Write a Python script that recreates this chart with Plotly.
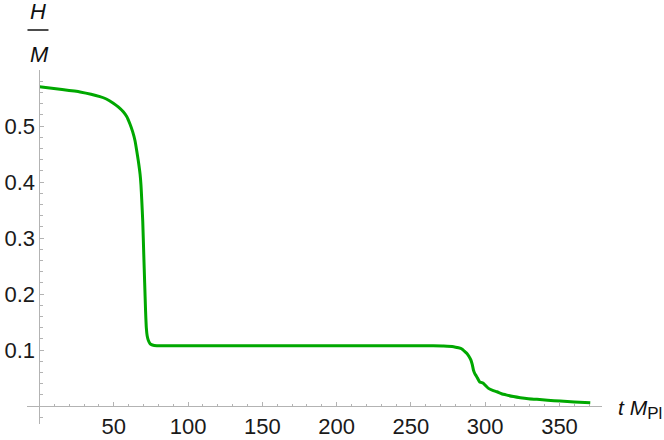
import plotly.graph_objects as go

# data
t_vals = [0, 13.8, 27.3, 40.7, 45, 49.7, 53, 56.4, 58.7, 60.9, 62.7, 64.3, 65.5, 66.5, 67.7,
          68.3, 68.8, 69.5, 70.2, 70.8, 71.4, 71.9, 72.5, 73.3, 74.5, 76, 79, 90, 150, 200,
          250, 265, 272, 278.7, 282, 284.3, 286, 287.7, 289, 290.4, 291.3, 292.1, 293,
          293.9, 295, 296.2, 297.5, 298.9, 300.5, 302.2, 305, 307.9, 311, 314.6, 319, 323.6,
          329, 334.8, 342, 350.5, 360, 370.7]
h_vals = [0.570, 0.5655, 0.5607, 0.5525, 0.5482, 0.5408, 0.5342, 0.5255, 0.517, 0.5036, 0.490,
          0.4738, 0.455, 0.438, 0.414, 0.395, 0.370, 0.330, 0.270, 0.220, 0.170, 0.140, 0.125,
          0.117, 0.111, 0.109, 0.1077, 0.1077, 0.1077, 0.1077, 0.1077, 0.1075, 0.1072,
          0.106, 0.104, 0.102, 0.098, 0.094, 0.089, 0.082, 0.074, 0.064, 0.058, 0.054, 0.049,
          0.0434, 0.042, 0.0405, 0.036, 0.0316, 0.028, 0.0256, 0.022, 0.0196, 0.017, 0.0149,
          0.013, 0.012, 0.0104, 0.0089, 0.0075, 0.0059]

x_ticks = [50, 100, 150, 200, 250, 300, 350]
y_ticks = [0.1, 0.2, 0.3, 0.4, 0.5]
y_tick_text = ["0.1", "0.2", "0.3", "0.4", "0.5"]

x_range = [-8.4, 378.6]
y_range = [-0.032, 0.6]

axis_col = "#b3b3b3"
font_fam = "Liberation Sans, Arial, sans-serif"
label_col = "#1a1a1a"

fig = go.Figure()
fig.add_trace(go.Scatter(x=t_vals, y=h_vals, mode="lines",
                         line=dict(color="#00a800", width=3, shape="spline", smoothing=0.4),
                         hoverinfo="skip"))

x_pos = (0 - y_range[0]) / (y_range[1] - y_range[0])
y_pos = (0 - x_range[0]) / (x_range[1] - x_range[0])

fig.update_layout(
    width=664, height=440,
    margin=dict(l=27, r=62, t=70, b=16),
    paper_bgcolor="white", plot_bgcolor="white",
    showlegend=False,
    font=dict(family=font_fam, size=22, color=label_col),
    xaxis=dict(range=x_range, anchor="free", position=x_pos, showgrid=False,
               automargin=False, zeroline=False, showline=True, linecolor=axis_col,
               linewidth=1, tickvals=x_ticks, ticks="inside", ticklen=4,
               tickcolor=axis_col, tickwidth=1, ticklabelstandoff=1,
               minor=dict(dtick=10, tick0=0, ticks="inside", ticklen=2.5,
                          tickcolor=axis_col, showgrid=False),
               tickfont=dict(size=22, family=font_fam, color=label_col)),
    yaxis=dict(range=y_range, anchor="free", position=y_pos, showgrid=False,
               automargin=False, zeroline=False, showline=True, linecolor=axis_col,
               linewidth=1, tickvals=y_ticks, ticktext=y_tick_text, ticks="inside",
               ticklen=4, tickcolor=axis_col, tickwidth=1,
               minor=dict(dtick=0.02, tick0=0, ticks="inside", ticklen=2.5,
                          tickcolor=axis_col, showgrid=False),
               tickfont=dict(size=22, family=font_fam, color=label_col)),
)

# y-axis label H/M as a fraction
fig.add_annotation(x=0, xref="x", y=1, yref="paper", yshift=59, text="<i>H</i>",
                   showarrow=False, font=dict(size=22, family=font_fam, color="#111"),
                   xanchor="center", yanchor="middle", xshift=-1)
fig.add_annotation(x=0, xref="x", y=1, yref="paper", yshift=16, text="<i>M</i>",
                   showarrow=False, font=dict(size=22, family=font_fam, color="#111"),
                   xanchor="center", yanchor="middle", xshift=0)
fig.add_shape(type="line", xref="x", yref="paper", xsizemode="pixel", ysizemode="pixel",
              xanchor=0, yanchor=1, x0=-12, x1=9, y0=40, y1=40,
              line=dict(color="#111", width=1.5))

# x-axis label
fig.add_annotation(x=1, xref="paper", y=0, yref="y", xshift=14,
                   text="<i>t M</i><sub><span style='font-size:17px'>Pl</span></sub>",
                   showarrow=False,
                   font=dict(size=21, family=font_fam, color="#111"),
                   xanchor="left", yanchor="middle", yshift=-3)

fig.write_html("out.html", config={"displayModeBar": False},
               post_script="document.body.style.margin='0';document.body.style.padding='0';"
                           "document.documentElement.style.overflow='hidden';")
